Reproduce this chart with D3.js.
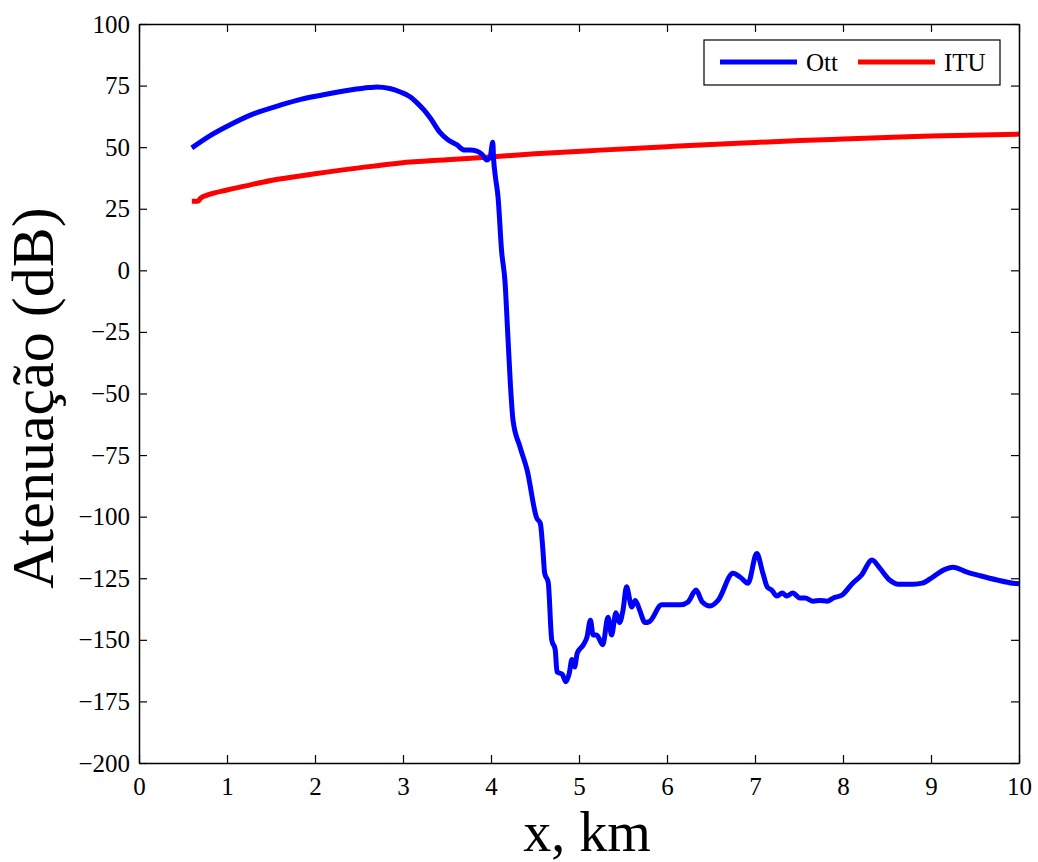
<!DOCTYPE html>
<html>
<head>
<meta charset="utf-8">
<script src="https://cdn.jsdelivr.net/npm/d3@7"></script>
<style>
  body { margin: 0; background: #fff; }
  svg { display: block; }
  text { font-family: "Liberation Serif", "Times New Roman", serif; fill: #000; }
</style>
</head>
<body>
<svg id="chart" width="1038" height="862"></svg>
<script>
// ---- Data ----
const xTicks = [0, 1, 2, 3, 4, 5, 6, 7, 8, 9, 10];
const yTicks = [100, 75, 50, 25, 0, -25, -50, -75, -100, -125, -150, -175, -200];

const ottX = [0.60, 0.80, 1.03, 1.30, 1.60, 1.85, 2.06, 2.40, 2.62, 2.70, 2.85, 2.97, 3.08, 3.16, 3.24, 3.31, 3.42, 3.51, 3.61, 3.70, 3.76, 3.84, 3.90, 3.95, 3.99, 4.02, 4.03, 4.05, 4.08, 4.12, 4.16, 4.19, 4.22, 4.25, 4.33, 4.41, 4.52, 4.56, 4.59, 4.61, 4.65, 4.69, 4.73, 4.75, 4.81, 4.85, 4.89, 4.92, 4.95, 4.98, 5.05, 5.09, 5.13, 5.16, 5.20, 5.27, 5.33, 5.37, 5.42, 5.46, 5.50, 5.54, 5.60, 5.64, 5.69, 5.75, 5.80, 5.94, 6.15, 6.24, 6.33, 6.40, 6.49, 6.58, 6.75, 6.83, 6.92, 7.02, 7.09, 7.14, 7.19, 7.25, 7.31, 7.36, 7.43, 7.51, 7.57, 7.66, 7.74, 7.82, 7.89, 7.99, 8.11, 8.21, 8.33, 8.42, 8.53, 8.63, 8.80, 8.90, 9.02, 9.14, 9.25, 9.41, 9.56, 9.75, 9.93, 10.00];
const ottY = [49.7, 54.5, 59.0, 63.5, 67.0, 69.5, 71.0, 73.2, 74.2, 74.4, 73.8, 72.4, 70.5, 68.0, 65.0, 61.8, 56.0, 53.0, 51.0, 48.8, 48.8, 48.4, 47.0, 44.8, 46.0, 52.0, 45.0, 38.0, 29.8, 8.0, -5.0, -25.5, -46.0, -60.8, -71.7, -81.0, -100.6, -102.6, -113.6, -123.0, -126.6, -150.0, -154.0, -163.0, -164.0, -167.0, -163.5, -158.0, -161.0, -155.4, -152.0, -149.0, -142.0, -148.0, -148.0, -152.0, -140.8, -148.0, -139.0, -143.0, -138.0, -128.5, -136.7, -134.0, -138.0, -143.0, -142.6, -135.8, -135.8, -134.6, -129.8, -134.6, -136.3, -134.0, -123.0, -124.5, -127.0, -115.0, -123.0, -128.6, -129.8, -132.2, -131.0, -132.2, -131.0, -133.0, -133.0, -134.3, -134.0, -134.3, -133.0, -131.8, -127.0, -123.7, -117.6, -121.0, -125.7, -127.4, -127.4, -127.0, -124.5, -121.7, -120.5, -122.5, -124.0, -125.7, -127.0, -127.2];

const ituX = [0.60, 0.67, 0.70, 0.80, 1.00, 1.20, 1.50, 1.83, 2.00, 2.50, 2.97, 3.50, 3.99, 4.50, 5.24, 6.00, 6.38, 7.00, 7.51, 8.00, 8.65, 9.00, 10.00];
const ituY = [28.0, 28.0, 29.3, 30.8, 32.6, 34.2, 36.5, 38.3, 39.2, 41.6, 43.6, 44.9, 46.0, 47.3, 48.8, 50.2, 50.9, 51.9, 52.7, 53.3, 54.1, 54.5, 55.3];

const seriesNames = ["Ott", "ITU"];
const seriesColors = ["#0000ff", "#ff0000"];

// ---- Layout ----
const svg = d3.select("#chart");
const L = 139, R = 1019, T = 24, B = 763;

const x = d3.scaleLinear().domain([0, 10]).range([L, R]);
const y = d3.scaleLinear().domain([-200, 100]).range([B, T]);

const fmt = d => d3.format("d")(d).replace("-", "\u2212");

// Lines
const line = d3.line().x(d => x(d[0])).y(d => y(d[1])).curve(d3.curveMonotoneX);
const ottData = ottX.map((v, i) => [v, ottY[i]]);
const ituData = ituX.map((v, i) => [v, ituY[i]]);

svg.append("clipPath").attr("id", "clip")
  .append("rect").attr("x", L).attr("y", T).attr("width", R - L).attr("height", B - T);

const g = svg.append("g").attr("clip-path", "url(#clip)");
g.append("path").datum(ituData).attr("d", line)
  .attr("fill", "none").attr("stroke", seriesColors[1]).attr("stroke-width", 5)
  .attr("stroke-linejoin", "round");
g.append("path").datum(ottData).attr("d", line)
  .attr("fill", "none").attr("stroke", seriesColors[0]).attr("stroke-width", 5)
  .attr("stroke-linejoin", "round");

// Axes (inward ticks on all four sides)
const tickLen = 8;
const axB = svg.append("g").attr("transform", `translate(0,${B})`)
  .call(d3.axisBottom(x).tickValues(xTicks).tickSizeInner(-tickLen).tickSizeOuter(0).tickPadding(14).tickFormat(fmt));
const axT = svg.append("g").attr("transform", `translate(0,${T})`)
  .call(d3.axisTop(x).tickValues(xTicks).tickSizeInner(-tickLen).tickSizeOuter(0).tickFormat(""));
const axL = svg.append("g").attr("transform", `translate(${L},0)`)
  .call(d3.axisLeft(y).tickValues(yTicks).tickSizeInner(-tickLen).tickSizeOuter(0).tickPadding(9).tickFormat(fmt));
const axR = svg.append("g").attr("transform", `translate(${R},0)`)
  .call(d3.axisRight(y).tickValues(yTicks).tickSizeInner(-tickLen).tickSizeOuter(0).tickFormat(""));

[axB, axT, axL, axR].forEach(a => {
  a.select(".domain").attr("stroke", "#000").attr("stroke-width", 1.5);
  a.selectAll(".tick line").attr("stroke", "#000").attr("stroke-width", 1.2);
  a.selectAll("text").style("font-family", "'Liberation Serif', serif").style("font-size", "25px").attr("fill", "#000");
});

// Axis titles
svg.append("text").attr("x", 587).attr("y", 851)
  .attr("text-anchor", "middle").style("font-size", "56px").text("x, km");
svg.append("text").attr("transform", `translate(53,398) rotate(-90)`)
  .attr("text-anchor", "middle").style("font-size", "60px").text("Atenuação (dB)");

// Legend
const lg = svg.append("g");
lg.append("rect").attr("x", 704).attr("y", 40).attr("width", 296).attr("height", 45)
  .attr("fill", "#fff").attr("stroke", "#000").attr("stroke-width", 1.2);
const legX = [720, 858];
seriesNames.forEach((n, i) => {
  lg.append("line").attr("x1", legX[i]).attr("x2", legX[i] + 77).attr("y1", 62).attr("y2", 62)
    .attr("stroke", seriesColors[i]).attr("stroke-width", 5);
  lg.append("text").attr("x", legX[i] + 86).attr("y", 71).style("font-size", "25px").text(n);
});
</script>
</body>
</html>
